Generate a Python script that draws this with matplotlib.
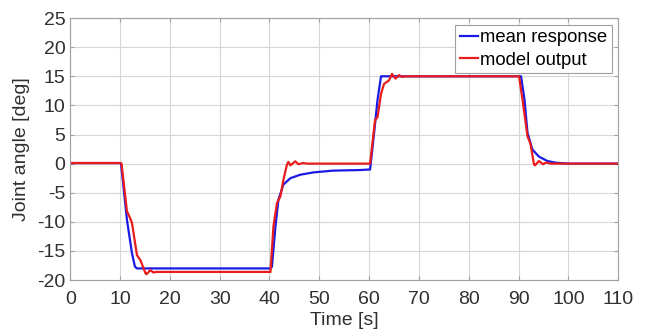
import matplotlib.pyplot as plt

plt.rcParams['font.family'] = ['Liberation Sans', 'DejaVu Sans']
plt.rcParams['axes.unicode_minus'] = False

# mean response (blue)
mean_t = [0, 10.0, 10.2, 11.4, 12.4, 13.0, 13.4, 40.2, 40.5, 41.2, 41.8, 42.8, 44.2, 46.2,
          48.9, 52.8, 58.2, 60.2, 61.0, 61.7, 62.4, 90.5, 91.2, 91.8, 92.8, 94.1, 95.8,
          97.5, 100, 110]
mean_y = [0.1, 0.1, 0.0, -9.7, -15.4, -17.7, -18.0, -18.0, -17.7, -10.8, -6.2, -3.6, -2.5, -1.9,
          -1.5, -1.2, -1.1, -1.0, 5.2, 11.0, 15.0, 15.0, 11.0, 5.3, 2.4, 1.2, 0.45,
          0.15, 0.0, 0.0]

# model output (red)
model_t = [0, 10.1, 10.3, 11.4, 12.0, 12.4, 13.4, 14.1, 15.1, 15.3,
           16.1, 16.7, 17.3, 40.2, 40.8, 41.5, 42.2, 42.8, 43.5, 43.8,
           44.2, 45.2, 45.8, 46.8, 47.5, 60.2, 61.2, 61.7, 62.4, 63.0,
           64.0, 64.6, 65.3, 66.0, 66.6, 67.2, 90.1, 90.8, 91.8, 92.4,
           93.1, 93.3, 94.1, 94.9, 95.6, 96.5, 110]
model_y = [0.1, 0.1, 0.0, -8.2, -9.3, -10.2, -15.7, -16.6, -18.8, -19.0,
           -18.3, -18.7, -18.6, -18.6, -10.8, -6.8, -5.6, -2.8, -0.2, 0.3,
           -0.3, 0.4, -0.1, 0.1, 0.0, 0.0, 7.5, 8.0, 12.0, 13.7,
           14.3, 15.4, 14.6, 15.2, 14.9, 15.0, 15.0, 11.0, 4.7, 3.4,
           -0.1, -0.3, 0.45, -0.1, 0.2, 0.0, 0.0]

fig = plt.figure(figsize=(6.5, 3.35), dpi=100)
ax = fig.add_axes([0.108, 0.164, 0.843, 0.782])

ax.plot(mean_t, mean_y, color='#1a1ae6', lw=1.6, label='mean response')
ax.plot(model_t, model_y, color='#e81c1c', lw=1.6, label='model output')

ax.set_xlim(0, 110)
ax.set_ylim(-20, 25)
ax.set_xticks(range(0, 111, 10))
ax.set_yticks(range(-20, 26, 5))
ax.grid(True, color='#d6d6d6', lw=0.8)
ax.set_axisbelow(True)
for s in ax.spines.values():
    s.set_color('#a0a0a0')
ax.tick_params(direction='in', top=True, right=True, labelsize=14, color='#a0a0a0',
               labelcolor='#303030', length=3)
ax.tick_params(axis='x', pad=8)

ax.set_xlabel('Time [s]', fontsize=14, color='#303030', labelpad=3)
ax.set_ylabel('Joint angle [deg]', fontsize=14, color='#303030', labelpad=5)

leg = ax.legend(loc='upper right', fontsize=13.3, fancybox=False, framealpha=1,
                edgecolor='#a0a0a0', handlelength=1.0, handletextpad=0.1,
                borderpad=0.25, labelspacing=0.3, borderaxespad=0.35)
leg.get_frame().set_linewidth(0.8)

fig.savefig('out.png', dpi=100)
